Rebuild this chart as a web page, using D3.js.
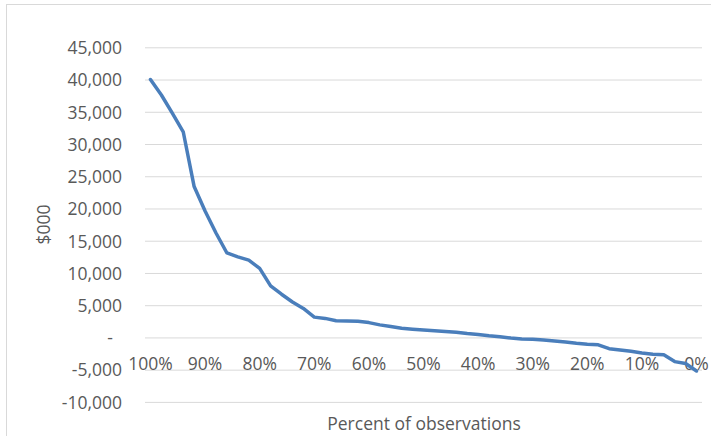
<!DOCTYPE html>
<html>
<head>
<meta charset="utf-8">
<script src="https://cdn.jsdelivr.net/npm/d3@7"></script>
<style>
  html, body { margin: 0; padding: 0; background: #fff; }
  svg { display: block; }
  text { font-family: "Open Sans", sans-serif; fill: #595959; }
</style>
</head>
<body>
<svg id="chart" width="711" height="436"></svg>
<script>
// ---- data ----
const categories = ["100%","98%","96%","94%","92%","90%","88%","86%","84%","82%",
  "80%","78%","76%","74%","72%","70%","68%","66%","64%","62%",
  "60%","58%","56%","54%","52%","50%","48%","46%","44%","42%",
  "40%","38%","36%","34%","32%","30%","28%","26%","24%","22%",
  "20%","18%","16%","14%","12%","10%","8%","6%","4%","2%","0%"];
const values = [40000,37600,34800,31900,23400,19600,16200,13100,12500,12000,
  10700,8000,6700,5500,4500,3150,2950,2600,2550,2500,
  2300,1950,1680,1430,1280,1160,1050,920,800,600,
  450,250,100,-100,-250,-300,-400,-550,-700,-900,
  -1050,-1150,-1750,-1950,-2150,-2400,-2600,-2700,-3750,-4050,-5200];
const xTickLabels = ["100%","90%","80%","70%","60%","50%","40%","30%","20%","10%","0%"];
const yTicks = [45000,40000,35000,30000,25000,20000,15000,10000,5000,0,-5000,-10000];
const yTitle = "$000";
const xTitle = "Percent of observations";

// ---- layout ----
const plot = { left: 145, right: 702, top: 47.3, bottom: 401.9 };
const svg = d3.select("#chart");

// chart area border
svg.append("rect")
  .attr("x", 6.5).attr("y", 4.5).attr("width", 720).attr("height", 450)
  .attr("fill", "none").attr("stroke", "#d9d9d9").attr("stroke-width", 1);

const x = d3.scaleBand().domain(categories).range([plot.left, plot.right]);
const y = d3.scaleLinear().domain([-10000, 45000]).range([plot.bottom, plot.top]);
const cx = c => x(c) + x.bandwidth() / 2;

// y axis with gridlines
const locale = d3.formatLocale({ decimal: ".", thousands: ",", grouping: [3], currency: ["$", ""], minus: "-" });
const fmt = locale.format(",");
const yAxis = d3.axisLeft(y)
  .tickValues(yTicks)
  .tickSize(-(plot.right - plot.left))
  .tickPadding(23)
  .tickFormat(v => v === 0 ? "-" : fmt(v));
const gy = svg.append("g").attr("transform", `translate(${plot.left},0)`).call(yAxis);
gy.select(".domain").remove();
gy.selectAll(".tick line").attr("stroke", "#d9d9d9").attr("stroke-width", 1);
gy.selectAll(".tick text")
  .attr("font-size", "17.5px")
  .attr("font-family", "'Open Sans', sans-serif")
  .attr("fill", "#595959")
  .attr("dy", "0.36em")
  .attr("x", v => v === 0 ? -32 : -23);

// x axis labels, next to the 0 line
const xAxis = d3.axisBottom(x)
  .tickValues(categories.filter(c => xTickLabels.includes(c)))
  .tickSize(0)
  .tickPadding(20);
const gx = svg.append("g").attr("transform", `translate(0,${y(0)})`).call(xAxis);
gx.select(".domain").remove();
gx.selectAll(".tick text")
  .attr("font-size", "17.5px")
  .attr("font-family", "'Open Sans', sans-serif")
  .attr("fill", "#595959");

// line
const line = d3.line()
  .x((d, i) => cx(categories[i]))
  .y(d => y(d));
svg.append("path")
  .datum(values)
  .attr("fill", "none")
  .attr("stroke", "#4a7ebb")
  .attr("stroke-width", 3.5)
  .attr("stroke-linejoin", "round")
  .attr("stroke-linecap", "round")
  .attr("d", line);

// titles
svg.append("text")
  .attr("transform", `translate(49.5,${(plot.top + plot.bottom) / 2}) rotate(-90)`)
  .attr("text-anchor", "middle")
  .attr("font-size", "17.5px")
  .text(yTitle);
svg.append("text")
  .attr("x", 424).attr("y", 429.5)
  .attr("text-anchor", "middle")
  .attr("font-size", "17.5px")
  .text(xTitle);
</script>
</body>
</html>
